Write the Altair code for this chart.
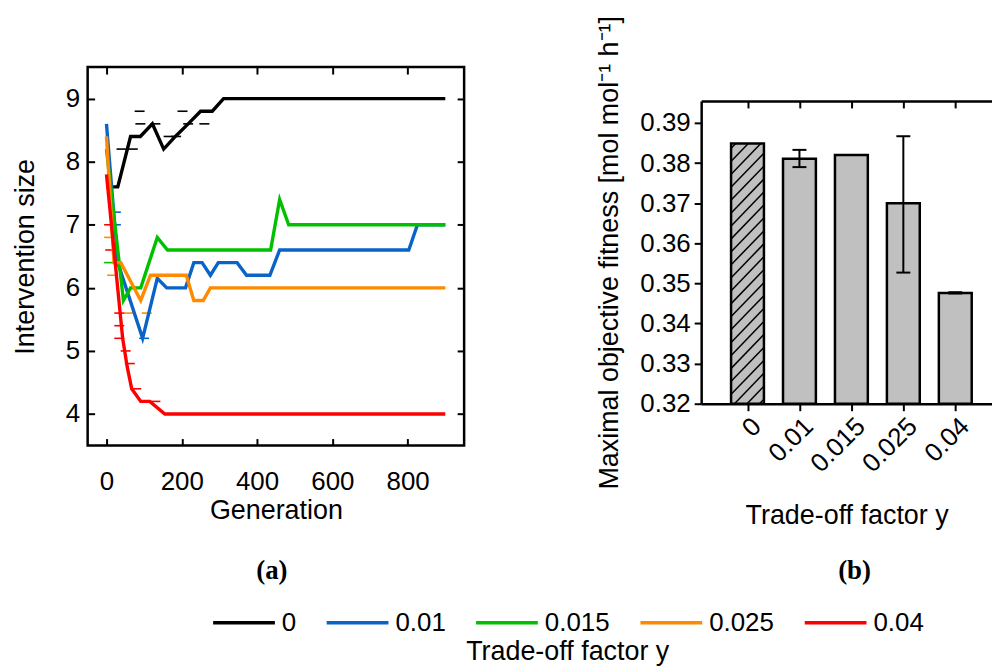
import altair as alt
import pandas as pd
import numpy as np

FONT = "Liberation Sans"
SERIF = "Liberation Serif"

# ---------------- data: panel (a) ----------------
series = ["0", "0.01", "0.015", "0.025", "0.04"]
colors = ["#000000", "#0a64c8", "#00c000", "#ff8a00", "#ff0000"]

gen_0 = [0, 30, 64, 90, 122, 152, 183, 217, 250, 281, 311, 900]
size_0 = [7.6, 7.6, 8.4, 8.4, 8.6, 8.2, 8.4, 8.6, 8.8, 8.8, 9.0, 9.0]
gen_001 = [0, 30, 96, 135, 160, 210, 232, 254, 276, 297, 347, 372, 434, 460, 803, 826, 900]
size_001 = [8.6, 6.4, 5.2, 6.15, 6.0, 6.0, 6.4, 6.4, 6.2, 6.4, 6.4, 6.2, 6.2, 6.6, 6.6, 7.0, 7.0]
gen_0015 = [0, 45, 64, 91, 135, 162, 436, 460, 484, 900]
size_0015 = [8.2, 5.8, 6.0, 6.0, 6.8, 6.6, 6.6, 7.4, 7.0, 7.0]
gen_0025 = [0, 20, 38, 91, 117, 212, 232, 257, 276, 900]
size_0025 = [8.4, 6.4, 6.4, 5.8, 6.2, 6.2, 5.8, 5.8, 6.0, 6.0]
gen_004 = [0, 43, 55, 67, 91, 115, 155, 900]
size_004 = [7.8, 5.2, 4.75, 4.4, 4.2, 4.2, 4.0, 4.0]

gens = [gen_0, gen_001, gen_0015, gen_0025, gen_004]
sizes = [size_0, size_001, size_0015, size_0025, size_004]

# error-bar caps (small dashes) seen around the mean curves
cap_series = ["0"] * 10 + ["0.01"] * 3 + ["0.015"] * 1 + ["0.025"] * 4 + ["0.04"] * 9
cap_gen = [88, 202, 90, 130, 217, 260, 165, 185, 40, 70,
           25, 25, 100,
           7,
           7, 15, 60, 107,
           7, 10, 34, 34, 34, 51, 62, 79, 130]
cap_val = [8.8, 8.8, 8.6, 8.6, 8.6, 8.6, 8.4, 8.4, 8.2, 8.2,
           7.2, 7.0, 5.2,
           6.4,
           6.8, 6.2, 5.6, 5.6,
           7.0, 6.6, 5.6, 5.4, 5.2, 5.0, 4.8, 4.4, 4.2]

# ---------------- data: panel (b) ----------------
tradeoff = ["0", "0.01", "0.015", "0.025", "0.04"]
fitness = [0.3849, 0.3811, 0.3820, 0.3700, 0.3476]
err_low = [None, 0.3790, None, 0.3527, 0.3475]
err_high = [None, 0.3833, None, 0.3867, 0.3478]
hatched = [True, False, False, False, False]

# ---------------- layout constants ----------------
W_A, H_A = 378, 380
W_B, H_B = 292, 304
B_TOP = 34                     # panel (b) frame starts this far below panel (a) frame
GEN_DOM = [-50, 950]
SIZE_DOM = [3.5, 9.5]
FIT_DOM = [0.32, 0.3955]
IDX_DOM = [-0.796, 4.611]
BAR_PX = 33
LAB = 26
TIT = 27

rows = []
for name, g, s in zip(series, gens, sizes):
    for gg, ss in zip(g, s):
        rows.append({"series": name, "gen": gg, "size": ss})
df_a = pd.DataFrame(rows)
df_caps = pd.DataFrame({"series": cap_series, "gen": cap_gen, "size": cap_val})

df_b = pd.DataFrame({
    "idx": list(range(len(tradeoff))),
    "label": tradeoff,
    "fit": fitness,
    "lo": err_low,
    "hi": err_high,
})
df_err = df_b.dropna(subset=["lo"])

# hatch segments (45 degree lines inside hatched bars), derived from the scales
px_x = W_B / (IDX_DOM[1] - IDX_DOM[0])
px_y = H_B / (FIT_DOM[1] - FIT_DOM[0])
hrows = []
for i, (v, h) in enumerate(zip(fitness, hatched)):
    if not h:
        continue
    Hpx = (v - FIT_DOM[0]) * px_y
    step = 13.0
    c = -BAR_PX + 4
    while c < Hpx:
        u0 = max(0.0, -c)
        u1 = min(float(BAR_PX), Hpx - c)
        if u1 > u0:
            xl = i - BAR_PX / 2 / px_x
            hrows.append({
                "x": xl + u0 / px_x, "x2": xl + u1 / px_x,
                "y": FIT_DOM[0] + (u0 + c) / px_y, "y2": FIT_DOM[0] + (u1 + c) / px_y,
            })
        c += step
df_h = pd.DataFrame(hrows)

# ---------------- panel (a) ----------------
xs_a = alt.Scale(domain=GEN_DOM, nice=False, zero=False)
ys_a = alt.Scale(domain=SIZE_DOM, nice=False, zero=False)

common_axis = dict(grid=False, tickColor="black", tickWidth=2, labelFont=FONT, labelFontSize=LAB,
                   labelColor="black", titleFont=FONT, titleFontSize=TIT, titleFontWeight="normal",
                   titleColor="black")

ax_a_bottom = alt.Axis(orient="bottom", values=[0, 200, 400, 600, 800], offset=-7, tickSize=7,
                       domain=False, labelPadding=23, title="Generation", titlePadding=3, **common_axis)
ax_a_left = alt.Axis(orient="left", values=[4, 5, 6, 7, 8, 9], offset=-7, tickSize=7, domain=False,
                     labelPadding=8, title="Intervention size", titlePadding=26, **common_axis)
ax_a_top = alt.Axis(orient="top", values=[0, 200, 400, 600, 800], offset=-7, tickSize=7, domain=False,
                    labels=False, title=None, grid=False, tickColor="black", tickWidth=2)
ax_a_right = alt.Axis(orient="right", values=[4, 5, 6, 7, 8, 9], offset=-7, tickSize=7, domain=False,
                      labels=False, title=None, grid=False, tickColor="black", tickWidth=2)

legend = alt.Legend(orient="none", legendX=124, legendY=525, direction="horizontal",
                    title="Trade-off factor y", titleOrient="bottom", titleAnchor="middle",
                    titleLimit=600, labelLimit=200,
                    titleFont=FONT, titleFontSize=TIT, titleFontWeight="normal", titleColor="black",
                    titlePadding=3, labelFont=FONT, labelFontSize=LAB, labelColor="black",
                    symbolType="stroke", symbolSize=3844, symbolStrokeWidth=3.5,
                    columnPadding=23, labelOffset=5)
color = alt.Color("series:N", scale=alt.Scale(domain=series, range=colors), legend=legend)

caps_layer = alt.Chart(df_caps).mark_rule(strokeWidth=1.6, xOffset=-5, x2Offset=5).encode(
    x=alt.X("gen:Q", scale=xs_a, axis=ax_a_bottom),
    x2="gen:Q",
    y=alt.Y("size:Q", scale=ys_a, axis=ax_a_left),
    color=color,
)

line_layers = [caps_layer]
for i, name in enumerate(series):
    if i == 0:
        xa, ya = ax_a_top, ax_a_right
    else:
        xa, ya = None, None
    ch = alt.Chart(df_a).transform_filter(alt.datum.series == name).mark_line(
        strokeWidth=3.4, clip=True
    ).encode(
        x=alt.X("gen:Q", scale=xs_a, axis=xa),
        y=alt.Y("size:Q", scale=ys_a, axis=ya),
        color=color,
        order="gen:Q",
    )
    line_layers.append(ch)

panel_a = alt.layer(*line_layers).resolve_axis(x="independent", y="independent").properties(
    width=W_A, height=H_A,
    view=alt.ViewBackground(stroke="black", strokeWidth=2.5, fill="white"),
    title=alt.TitleParams(text="(a)", orient="bottom", font=SERIF, fontSize=27, fontWeight="bold",
                          color="black", dx=-4, offset=35),
)

# ---------------- panel (b) ----------------
xs_b = alt.Scale(domain=IDX_DOM, nice=False, zero=False)
ys_b = alt.Scale(domain=FIT_DOM, nice=False, zero=False, range=[H_B + B_TOP, B_TOP])
label_expr = "[" + ",".join("'%s'" % t for t in tradeoff) + "][datum.value]"

ax_b_bottom = alt.Axis(orient="bottom", values=list(range(len(tradeoff))), labelExpr=label_expr,
                       labelAngle=-45, labelAlign="right", labelBaseline="top", labelOverlap=False,
                       tickSize=7, domain=True, domainColor="black", domainWidth=2.5,
                       labelPadding=2, title="Trade-off factor y", titlePadding=26, **common_axis)
ax_b_left = alt.Axis(orient="left", values=[0.32, 0.33, 0.34, 0.35, 0.36, 0.37, 0.38, 0.39],
                     format=".2f", tickSize=7, domain=True, domainColor="black", domainWidth=2.5,
                     labelPadding=4, title="Maximal objective fitness [mol mol\u207b\u00b9 h\u207b\u00b9]",
                     titlePadding=16, **common_axis)
ax_b_top_dom = alt.Axis(orient="top", offset=-B_TOP, domain=True, domainColor="black", domainWidth=2.5,
                        ticks=False, labels=False, title=None, grid=False)
ax_b_top_ticks = alt.Axis(orient="top", values=list(range(len(tradeoff))), offset=-(B_TOP + 7),
                          tickSize=7, domain=False, labels=False, title=None, grid=False,
                          tickColor="black", tickWidth=2)

bars = alt.Chart(df_b).mark_bar(size=BAR_PX, color="#c0c0c0").encode(
    x=alt.X("idx:Q", scale=xs_b, axis=ax_b_bottom),
    y=alt.Y("fit:Q", scale=ys_b, axis=ax_b_left),
    y2=alt.datum(FIT_DOM[0]),
)
hatch = alt.Chart(df_h).mark_rule(color="black", strokeWidth=1.5).encode(
    x=alt.X("x:Q", scale=xs_b, axis=None),
    x2="x2:Q",
    y=alt.Y("y:Q", scale=ys_b, axis=None),
    y2="y2:Q",
)
outline = alt.Chart(df_b).mark_bar(size=BAR_PX, fillOpacity=0, stroke="black", strokeWidth=2.5).encode(
    x=alt.X("idx:Q", scale=xs_b, axis=ax_b_top_dom),
    y=alt.Y("fit:Q", scale=ys_b, axis=None),
    y2=alt.datum(FIT_DOM[0]),
)
err_rule = alt.Chart(df_err).mark_rule(color="black", strokeWidth=2).encode(
    x=alt.X("idx:Q", scale=xs_b, axis=ax_b_top_ticks),
    y=alt.Y("lo:Q", scale=ys_b, axis=None),
    y2="hi:Q",
)
cap_lo = alt.Chart(df_err).mark_rule(color="black", strokeWidth=2, xOffset=-7, x2Offset=7).encode(
    x=alt.X("idx:Q", scale=xs_b, axis=None),
    x2="idx:Q",
    y=alt.Y("lo:Q", scale=ys_b, axis=None),
)
cap_hi = alt.Chart(df_err).mark_rule(color="black", strokeWidth=2, xOffset=-7, x2Offset=7).encode(
    x=alt.X("idx:Q", scale=xs_b, axis=None),
    x2="idx:Q",
    y=alt.Y("hi:Q", scale=ys_b, axis=None),
)

panel_b = alt.layer(bars, hatch, outline, err_rule, cap_lo, cap_hi).resolve_axis(
    x="independent", y="independent"
).properties(
    width=W_B, height=H_B + B_TOP,
    view=alt.ViewBackground(stroke="transparent", strokeWidth=0),
    title=alt.TitleParams(text="(b)", orient="bottom", font=SERIF, fontSize=27, fontWeight="bold",
                          color="black", dx=8, offset=30),
)

chart = alt.concat(panel_a, panel_b, columns=2, spacing=129).properties(
    padding={"left": 10, "top": 14, "right": 0, "bottom": 4},
    background="white",
    align="none",
)

chart.save("out.html", embed_options={"renderer": "svg", "actions": False})
